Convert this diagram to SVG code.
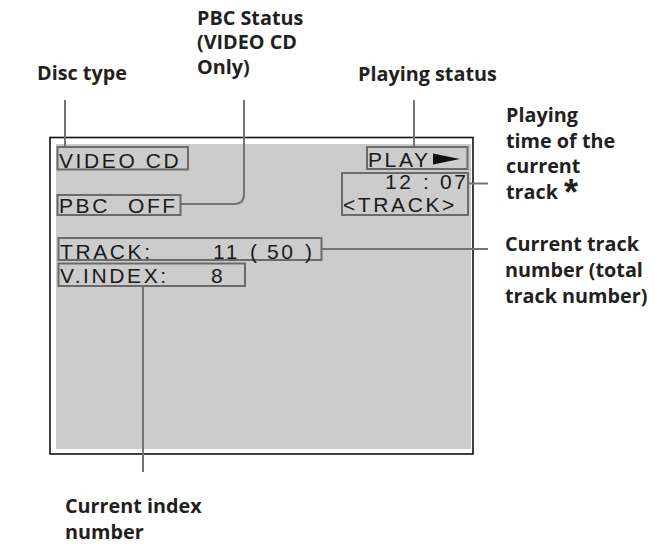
<svg xmlns="http://www.w3.org/2000/svg" width="655" height="545" viewBox="0 0 655 545">
<style>
.lbl{font-family:"Open Sans","Liberation Sans",sans-serif;font-weight:bold;font-size:19.8px;fill:#231f20}
.lcd{font-family:"Liberation Sans",Arial,sans-serif;font-size:21px;fill:#1a1a1a;letter-spacing:2.6px}
.box{fill:none;stroke:#6a6a6a;stroke-width:2}
.con{fill:none;stroke:#737373;stroke-width:2}
</style>
<rect width="655" height="545" fill="#ffffff"/>
<g id="screen">
<rect x="50" y="137.5" width="423" height="316.5" fill="#ffffff" stroke="#111111" stroke-width="1.6"/>
<rect x="56" y="144" width="415" height="305" fill="#cccccc"/>
</g>
<g id="connectors">
<line class="con" x1="65" y1="100" x2="65" y2="147"/>
<path class="con" d="M244,100 V194 Q244,204 234,204 H181"/>
<line class="con" x1="414" y1="100" x2="414" y2="147"/>
<line class="con" x1="468" y1="183.5" x2="488" y2="183.5"/>
<line class="con" x1="322" y1="249" x2="488" y2="249"/>
<line class="con" x1="143" y1="286" x2="143" y2="472"/>
</g>
<g id="disc-type">
<rect class="box" x="57.5" y="147" width="130.5" height="22.5"/>
<text class="lcd" x="59" y="167.5">VIDEO CD</text>
<text class="lbl" x="37" y="80">Disc type</text>
</g>
<g id="pbc-status">
<rect class="box" x="57.5" y="195" width="123" height="20"/>
<text class="lcd" x="59" y="213">PBC<tspan x="128">OFF</tspan></text>
<text class="lbl" x="197" y="24.5">PBC Status</text>
<text class="lbl" x="197" y="49">(VIDEO CD</text>
<text class="lbl" x="197" y="73.5">Only)</text>
</g>
<g id="playing-status">
<rect class="box" x="367" y="147" width="100.5" height="22"/>
<text class="lcd" x="368" y="167">PLAY</text>
<polygon points="433,153.5 460,159 433,164.5" fill="#111111"/>
<text class="lbl" x="358" y="81">Playing status</text>
</g>
<g id="playing-time">
<rect class="box" x="342" y="173" width="126" height="42"/>
<text class="lcd" x="385" y="189">12<tspan x="423">:</tspan><tspan x="440">07</tspan></text>
<text class="lcd" x="343" y="211.5">&lt;TRACK&gt;</text>
<text class="lbl" x="506" y="121.5">Playing</text>
<text class="lbl" x="506" y="147.5">time of the</text>
<text class="lbl" x="506" y="173">current</text>
<text class="lbl" x="506" y="199">track<tspan x="564" y="205" style="font-family:'Liberation Sans',Arial,sans-serif;font-size:36px">*</tspan></text>
</g>
<g id="current-track">
<rect class="box" x="58.5" y="238" width="263" height="22"/>
<text class="lcd" x="60" y="258.5">TRACK:<tspan x="213">11</tspan><tspan x="250">(</tspan><tspan x="267">50</tspan><tspan x="305">)</tspan></text>
<text class="lbl" x="505" y="250.5">Current track</text>
<text class="lbl" x="505" y="277">number (total</text>
<text class="lbl" x="505" y="303">track number)</text>
</g>
<g id="current-index">
<rect class="box" x="58.5" y="263.5" width="186.5" height="22.5"/>
<text class="lcd" x="60" y="283">V.INDEX:<tspan x="211">8</tspan></text>
<text class="lbl" x="65" y="512.5">Current index</text>
<text class="lbl" x="65" y="539">number</text>
</g>
</svg>
